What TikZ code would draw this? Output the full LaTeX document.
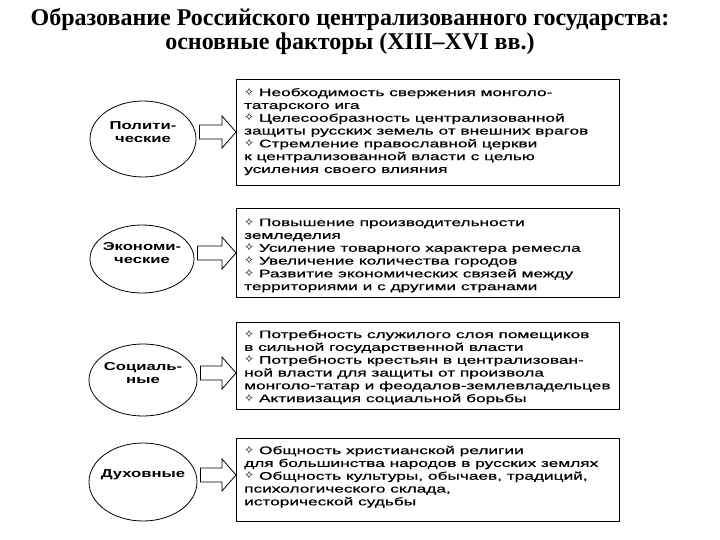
\documentclass[tikz,border=0pt]{standalone}
\usepackage{fontspec}
\setmainfont{Liberation Sans}
\newfontfamily\titlefont{Liberation Serif}
\newfontfamily\boxfont[FakeStretch=1.57,FakeBold=0.6]{Liberation Sans}
\newfontfamily\ellfont[FakeStretch=1.45]{Liberation Sans}
\newfontfamily\symfont{DejaVu Sans}
\usetikzlibrary{calc,shapes.geometric}
\newcommand{\bul}{{\symfont\fontsize{12}{12}\selectfont ✧}\ }
\tikzset{
  box/.style={draw, line width=1.1pt, minimum width=383pt, minimum height=#1, inner sep=0pt, anchor=north west},
  boxtext/.style={anchor=north west, align=left, inner sep=0pt, font=\boxfont\fontsize{11}{12.8}\selectfont},
  ell/.style={draw, ellipse, line width=0.8pt, inner sep=0pt},
  elltext/.style={align=center, inner sep=0pt, font=\ellfont\bfseries\fontsize{11.5}{13}\selectfont},
  blk/.style={draw, line width=0.8pt, fill=white, line join=miter},
  title/.style={inner sep=0pt, font=\titlefont\bfseries\fontsize{24}{24}\selectfont}
}
\newcommand{\blkarrow}[3]{%
  \draw[blk] let \p1=(#1.center), \p2=(#2.east), \p3=(#3.west) in
  (\x2+3pt,\y1+7pt) -- (\x3-14pt,\y1+7pt) -- (\x3-14pt,\y1+16pt) -- (\x3,\y1)
  -- (\x3-14pt,\y1-16pt) -- (\x3-14pt,\y1-7pt) -- (\x2+3pt,\y1-7pt) -- cycle;}
\begin{document}
\begin{tikzpicture}[x=1pt,y=-1pt]
\useasboundingbox[fill=white] (0,0) rectangle (720,540);
% title
\node[title] (t1) at (350,20) {Образование Российского централизованного государства:};
\node[title] (t2) at (350,44) {основные факторы (XIII–XVI вв.)};
% boxes
\node[box=106pt] (b1) at (236,79) {};
\node[box=89pt] (b2) at (236,208) {};
\node[box=87pt] (b3) at (236,322) {};
\node[box=83pt] (b4) at (236,438) {};
\node[boxtext] (x1) at ($(b1.north west)+(8,8)$) {\bul Необходимость свержения монголо-\\татарского ига\\\bul Целесообразность централизованной\\защиты русских земель от внешних врагов\\\bul Стремление православной церкви\\к централизованной власти с целью\\усиления своего влияния};
\node[boxtext] (x2) at ($(b2.north west)+(8,9)$) {\bul Повышение производительности\\земледелия\\\bul Усиление товарного характера ремесла\\\bul Увеличение количества городов\\\bul Развитие экономических связей между\\территориями и с другими странами};
\node[boxtext] (x3) at ($(b3.north west)+(8,7)$) {\bul Потребность служилого слоя помещиков\\в сильной государственной власти\\\bul Потребность крестьян в централизован-\\ной власти для защиты от произвола\\монголо-татар и феодалов-землевладельцев\\\bul Активизация социальной борьбы};
\node[boxtext] (x4) at ($(b4.north west)+(8,7)$) {\bul Общность христианской религии\\для большинства народов в русских землях\\\bul Общность культуры, обычаев, традиций,\\психологического склада,\\исторической судьбы};
% ellipses
\node[ell, minimum width=106pt, minimum height=76pt] (e1) at (143,139) {};
\node[ell, minimum width=104pt, minimum height=68pt] (e2) at (142,259) {};
\node[ell, minimum width=108pt, minimum height=72pt] (e3) at (143,380) {};
\node[ell, minimum width=108pt, minimum height=78pt] (e4) at (143,482) {};
\node[elltext] (l1) at ($(e1.center)+(0,-7)$) {Полити-\\ческие};
\node[elltext] (l2) at ($(e2.center)+(0,-6)$) {Экономи-\\ческие};
\node[elltext] (l3) at ($(e3.center)+(0,-7)$) {Социаль-\\ные};
\node[elltext] (l4) at ($(e4.center)+(0,-7)$) {Духовные};
% arrows
\blkarrow{l1}{e1}{b1}
\blkarrow{l2}{e2}{b2}
\blkarrow{l3}{e3}{b3}
\blkarrow{l4}{e4}{b4}
\end{tikzpicture}
\end{document}
